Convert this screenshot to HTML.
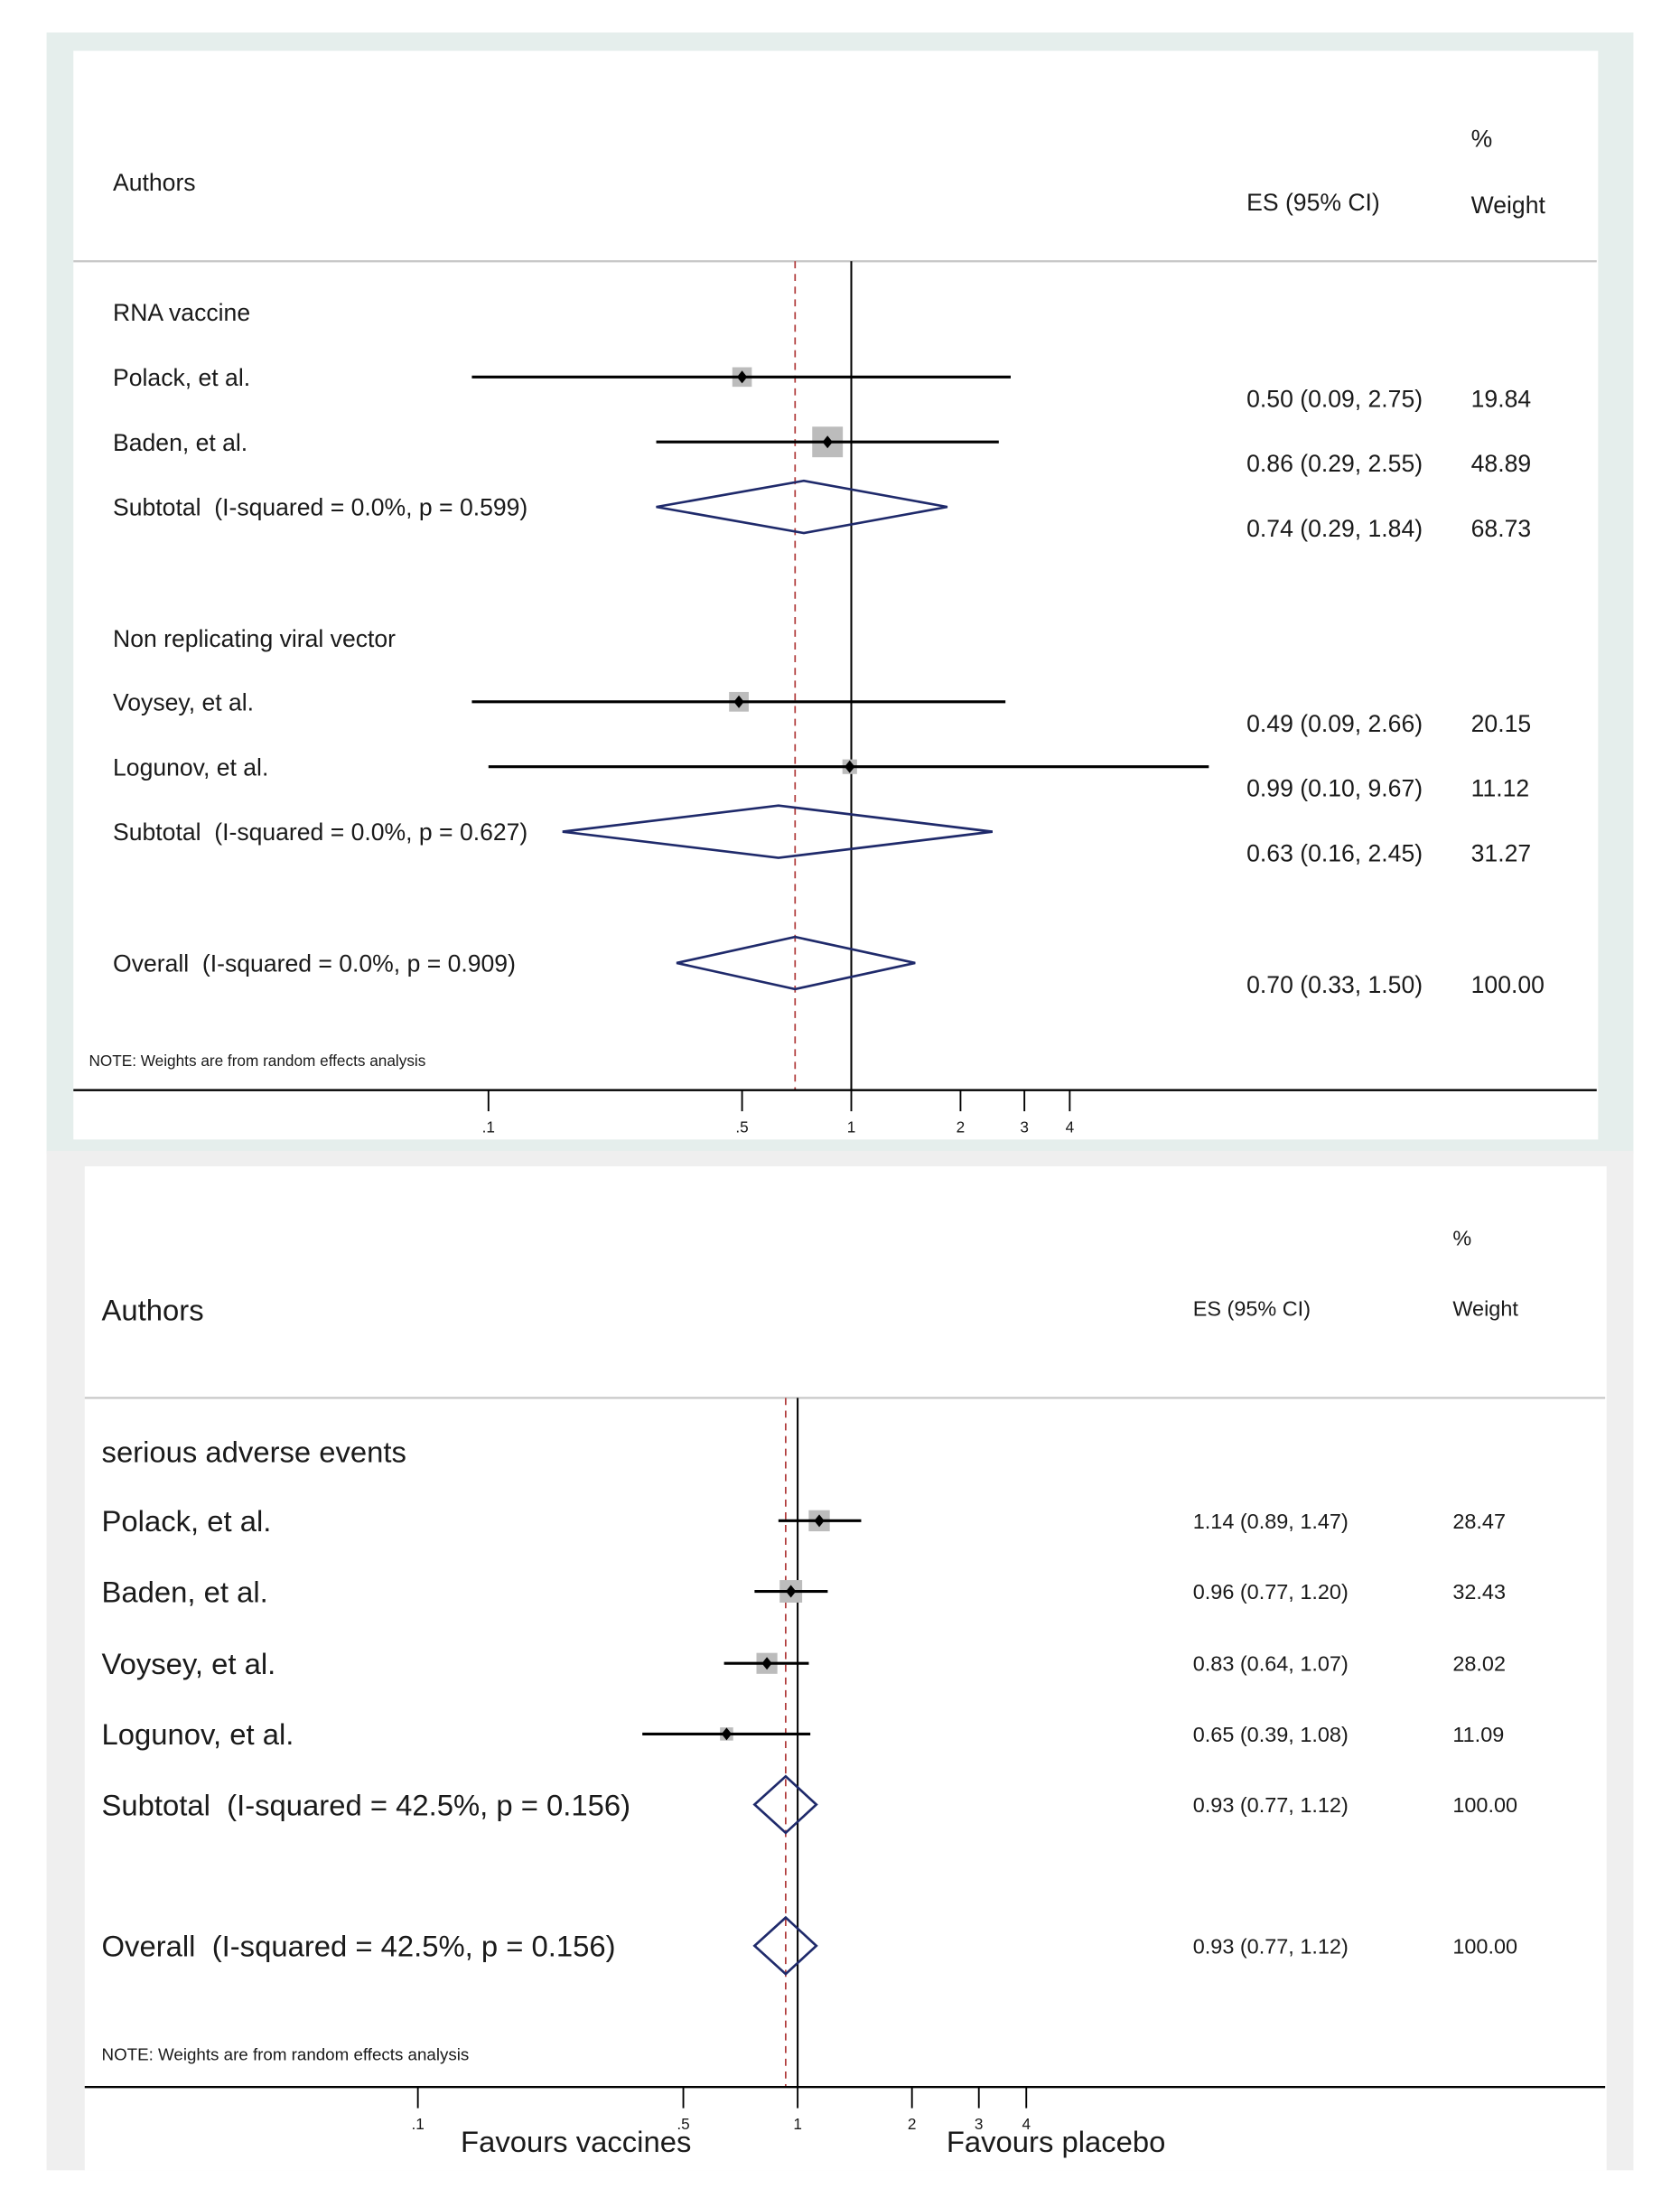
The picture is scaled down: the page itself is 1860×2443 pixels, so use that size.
<!DOCTYPE html>
<html><head><meta charset="utf-8"><style>
html,body{margin:0;padding:0;background:#fff}
svg{display:block}
text{font-family:"Liberation Sans",sans-serif;fill:#1a1a1a;white-space:pre}
</style></head><body>
<svg id="chart" width="1860" height="2443" viewBox="0 0 1190 1563" preserveAspectRatio="none" xmlns="http://www.w3.org/2000/svg">
<rect x="33" y="23" width="1124" height="794" fill="#e5eeec"/>
<rect x="52" y="36" width="1080" height="771" fill="#fff"/>
<rect x="33" y="815" width="1124" height="722" fill="#efefef"/>
<rect x="60" y="826" width="1078" height="711" fill="#fff"/>
<g id="top"></g>
<g id="bot"></g>
</svg>
<script>
// ---- Top panel data ----
const topLabels = ["RNA vaccine","Polack, et al.","Baden, et al.","Subtotal  (I-squared = 0.0%, p = 0.599)","Non replicating viral vector","Voysey, et al.","Logunov, et al.","Subtotal  (I-squared = 0.0%, p = 0.627)","Overall  (I-squared = 0.0%, p = 0.909)"];
const topKinds = ["head","study","study","sub","head","study","study","sub","sub"];
const topES = [null,0.50,0.86,0.74,null,0.49,0.99,0.63,0.70];
const topLo = [null,0.09,0.29,0.29,null,0.09,0.10,0.16,0.33];
const topHi = [null,2.75,2.55,1.84,null,2.66,9.67,2.45,1.50];
const topWeight = [null,"19.84","48.89","68.73",null,"20.15","11.12","31.27","100.00"];
const topRowY = [221,267,313,359,452,497,543,589,682];
const topTicks = [0.1,0.5,1,2,3,4];
const topTickLabels = [".1",".5","1","2","3","4"];
const topOverall = 0.70;

// ---- Bottom panel data ----
const botLabels = ["serious adverse events","Polack, et al.","Baden, et al.","Voysey, et al.","Logunov, et al.","Subtotal  (I-squared = 42.5%, p = 0.156)","Overall  (I-squared = 42.5%, p = 0.156)"];
const botKinds = ["head","study","study","study","study","sub","sub"];
const botES = [null,1.14,0.96,0.83,0.65,0.93,0.93];
const botLo = [null,0.89,0.77,0.64,0.39,0.77,0.77];
const botHi = [null,1.47,1.20,1.07,1.08,1.12,1.12];
const botWeight = [null,"28.47","32.43","28.02","11.09","100.00","100.00"];
const botRowY = [1028,1077,1127,1178,1228,1278,1378];
const botTicks = [0.1,0.5,1,2,3,4];
const botTickLabels = [".1",".5","1","2","3","4"];
const botOverall = 0.93;

const NS="http://www.w3.org/2000/svg";
function mk(parent,tag,attrs){const e=document.createElementNS(NS,tag);for(const k in attrs)e.setAttribute(k,attrs[k]);parent.appendChild(e);return e;}
function fmt(v){return v.toFixed(2);}

function panel(g,cfg){
  const xs=v=>cfg.x1+Math.log10(v)*cfg.dec;
  let t;
  t=mk(g,'text',{x:cfg.pctX,y:cfg.pctY,'font-size':cfg.hs});t.textContent='%';
  
  
  t=mk(g,'text',{x:cfg.labX,y:cfg.authY,'font-size':cfg.authS});t.textContent='Authors';
  
  
  t=mk(g,'text',{x:cfg.esX,y:cfg.esY,'font-size':cfg.hs});t.textContent='ES (95% CI)';
  
  
  t=mk(g,'text',{x:cfg.pctX,y:cfg.wY,'font-size':cfg.hs});t.textContent='Weight';
  
  
  let l=mk(g,'line',{x1:cfg.px1,x2:cfg.px2,y1:cfg.sepY,y2:cfg.sepY,stroke:'#c8c8c8','stroke-width':1.5});
  
  
  l=mk(g,'line',{x1:xs(1),x2:xs(1),y1:cfg.sepY,y2:cfg.axY,stroke:'#000','stroke-width':1.3});
  
  
  l=mk(g,'line',{x1:xs(cfg.overall),x2:xs(cfg.overall),y1:cfg.sepY,y2:cfg.axY,stroke:'#b03a3a','stroke-width':1.1,'stroke-dasharray':'5,4'});
  
  
  cfg.labels.forEach((lab,i)=>{
    const y=cfg.rowY[i],k=cfg.kinds[i];
    const tx=mk(g,'text',{x:cfg.labX,y:y+cfg.ls*0.36,'font-size':cfg.ls});tx.textContent=lab;
    
    
    if(k==='head')return;
    const es=cfg.es[i],lo=cfg.lo[i],hi=cfg.hi[i];
    const vy=y+cfg.valOff;
    const v=mk(g,'text',{x:cfg.esX,y:vy+cfg.vs*0.36,'font-size':cfg.vs});v.textContent=fmt(es)+' ('+fmt(lo)+', '+fmt(hi)+')';
    
    
    const w=mk(g,'text',{x:cfg.wX,y:vy+cfg.vs*0.36,'font-size':cfg.vs});w.textContent=cfg.weight[i];
    
    
    if(k==='study'){
      const sz=cfg.sqScale*Math.sqrt(parseFloat(cfg.weight[i]));
      const sq=mk(g,'rect',{x:xs(es)-sz/2,y:y-sz/2,width:sz,height:sz,fill:'#bcbcbc'});
      
      
      const ci=mk(g,'line',{x1:xs(lo),x2:xs(hi),y1:y,y2:y,stroke:'#000','stroke-width':cfg.ciW});
      
      
      const d=4.5,cx=xs(es);
      const pt=mk(g,'polygon',{points:`${cx-d*0.8},${y} ${cx},${y-d} ${cx+d*0.8},${y} ${cx},${y+d}`,fill:'#000'});
      
      
    } else {
      const h=cfg.dh,cx=xs(es);
      const dm=mk(g,'polygon',{points:`${xs(lo)},${y} ${cx},${y-h} ${xs(hi)},${y} ${cx},${y+h}`,fill:'none',stroke:'#1f2a6b','stroke-width':1.7});
      
      
    }
  });
  const n=mk(g,'text',{x:cfg.noteX,y:cfg.noteY,'font-size':cfg.ns});n.textContent='NOTE: Weights are from random effects analysis';
  
  
  l=mk(g,'line',{x1:cfg.px1,x2:cfg.px2,y1:cfg.axY,y2:cfg.axY,stroke:'#000','stroke-width':1.5});
  
  
  cfg.ticks.forEach((tv,i)=>{
    const tk=mk(g,'line',{x1:xs(tv),x2:xs(tv),y1:cfg.axY,y2:cfg.axY+15,stroke:'#000','stroke-width':1.2});
    
    
    const tl=mk(g,'text',{x:xs(tv),y:cfg.axY+30,'font-size':11,'text-anchor':'middle'});tl.textContent=cfg.tickLabels[i];
    
    
  });
}

panel(document.getElementById('top'),{x1:603,dec:257,labels:topLabels,kinds:topKinds,es:topES,lo:topLo,hi:topHi,weight:topWeight,rowY:topRowY,ticks:topTicks,tickLabels:topTickLabels,overall:topOverall,
  px1:52,px2:1131,sepY:185,axY:772,labX:80,authY:135,authS:17,esX:883,esY:149,pctX:1042,pctY:104,wY:151,wX:1042,hs:17,ls:17,vs:17,valOff:15,sqScale:3.1,ciW:2,dh:18.5,noteX:63,noteY:755,ns:11});
panel(document.getElementById('bot'),{x1:565,dec:269,labels:botLabels,kinds:botKinds,es:botES,lo:botLo,hi:botHi,weight:botWeight,rowY:botRowY,ticks:botTicks,tickLabels:botTickLabels,overall:botOverall,
  px1:60,px2:1137,sepY:990,axY:1478,labX:72,authY:935,authS:21,esX:845,esY:932,pctX:1029,pctY:882,wY:932,wX:1029,hs:15,ls:21,vs:15,valOff:0,sqScale:2.8,ciW:2,dh:20,noteX:72,noteY:1459,ns:12});

const svg=document.getElementById('chart');
let f=mk(svg,'text',{x:408,y:1524,'font-size':21,'text-anchor':'middle'});f.textContent='Favours vaccines';


f=mk(svg,'text',{x:748,y:1524,'font-size':21,'text-anchor':'middle'});f.textContent='Favours placebo';


</script>
</body></html>
